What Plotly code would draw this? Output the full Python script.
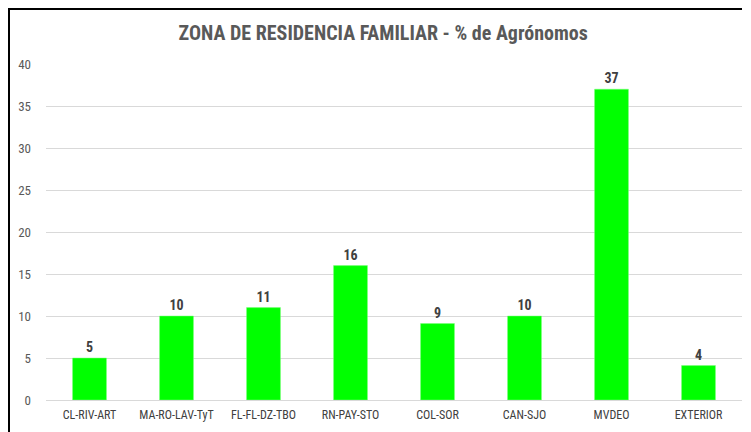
import plotly.graph_objects as go

categories = ["CL-RIV-ART", "MA-RO-LAV-TyT", "FL-FL-DZ-TBO", "RN-PAY-STO",
              "COL-SOR", "CAN-SJO", "MVDEO", "EXTERIOR"]
values = [5, 10, 11, 16, 9.1, 10, 37, 4.1]
y_ticks = [0, 5, 10, 15, 20, 25, 30, 35, 40]

W, H = 743, 424
ML, MR, MT, MB = 38, 9, 56, 32
pw = W - ML - MR
ph = H - MT - MB

def px_x(x):
    return (x - ML) / pw

def px_y(y):
    return (H - MB - y) / ph

font = "Liberation Sans Narrow, Arial Narrow, Roboto Condensed, sans-serif"

fig = go.Figure(go.Bar(
    x=categories, y=values,
    marker=dict(color="#00FF00", line=dict(color="#7CFF7C", width=0.5)),
    texttemplate="<b>%{y:.0f}</b>", textposition="outside",
    textfont=dict(family=font, size=14, color="#404040"),
    cliponaxis=False,
))

fig.update_layout(
    width=W, height=H,
    margin=dict(l=ML, r=MR, t=MT, b=MB),
    paper_bgcolor="white", plot_bgcolor="white",
    title=dict(text="<b>ZONA DE RESIDENCIA FAMILIAR - % de Agrónomos</b>",
               x=0.505, xanchor="center", y=0.941, yanchor="middle",
               font=dict(family=font, size=20, color="#595959")),
    bargap=0.61,
    showlegend=False,
    xaxis=dict(showgrid=False, showline=True, linecolor="#D9D9D9", linewidth=1,
               tickfont=dict(family=font, size=12, color="#404040"), ticks="",
               ticklabelstandoff=4),
    yaxis=dict(range=[0, 40], tickvals=y_ticks, showgrid=True, gridcolor="#D9D9D9",
               gridwidth=1, zeroline=False, showline=False, ticks="",
               tickfont=dict(family=font, size=13, color="#595959"),
               ticklabelstandoff=14),
    shapes=[
        dict(type="line", xref="paper", yref="paper",
             x0=px_x(1), x1=px_x(1), y0=px_y(0), y1=px_y(H),
             line=dict(color="black", width=2)),
        dict(type="line", xref="paper", yref="paper",
             x0=px_x(0), x1=px_x(734), y0=px_y(1), y1=px_y(1),
             line=dict(color="black", width=2)),
    ],
)

fig.write_html("out.html")
